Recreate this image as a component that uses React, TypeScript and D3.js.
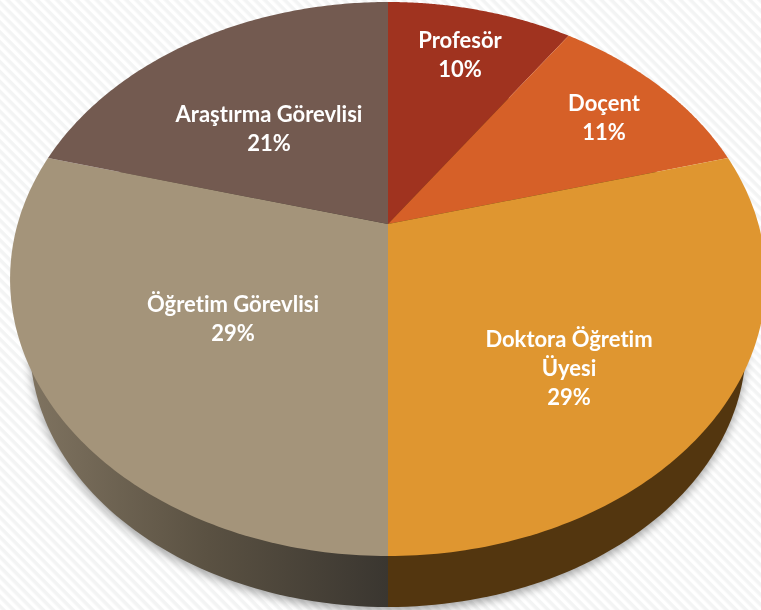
import React from "react";
import * as d3 from "d3";

const categories = ["Profesör", "Doçent", "Doktora Öğretim Üyesi", "Öğretim Görevlisi", "Araştırma Görevlisi"];
const values = [9.6, 11.2, 29.2, 29.2, 20.8];
const sliceColors = ["#a0331f", "#d66028", "#df9630", "#a4947a", "#735a50"];
const labelLines = [["Profesör"], ["Doçent"], ["Doktora Öğretim", "Üyesi"], ["Öğretim Görevlisi"], ["Araştırma Görevlisi"]];
const labelAnchors = [[460, 41], [604, 104], [569, 340], [233, 305], [269, 115]];

const W = 761, H = 610;
const apex = { x: 388, y: 224 };
const tilt = -0.1986, bx = 370.4, by = 266.1;
const project = (t: number): [number, number] => {
  const u = Math.sin(t), v = -Math.cos(t), d = 1 + tilt * v;
  return [apex.x + (bx * u) / d, apex.y + (by * v) / d];
};
const lower = { cx: 388, cy: 345, rx: 358, ry: 262 };
const lowerPt = (t: number): [number, number] => [lower.cx + lower.rx * Math.sin(t), lower.cy - lower.ry * Math.cos(t)];

const sample = (a: number, b: number, n = 120) => d3.range(n + 1).map((i) => a + ((b - a) * i) / n);
const lineGen = d3.line();

const pie = d3.pie<number>().sort(null)(values);
const wallLeft = lineGen([[lower.cx, lower.cy], ...sample(Math.PI, 2 * Math.PI).map(lowerPt)]) + "Z";
const wallRight = lineGen([[lower.cx, lower.cy], ...sample(0, Math.PI).map(lowerPt)]) + "Z";
const wallWhole = lineGen(sample(0, 2 * Math.PI, 240).map(lowerPt)) + "Z";

export default function App() {
  return (
    <svg width={W} height={H} viewBox={`0 0 ${W} ${H}`} style={{ position: "absolute", left: 0, top: 0, display: "block" }}>
      <defs>
        <pattern id="bg" width="7" height="7" patternUnits="userSpaceOnUse" patternTransform="rotate(45)">
          <rect width="7" height="7" fill="#ffffff" />
          <rect width="7" height="3.5" fill="#f3f4f4" />
        </pattern>
        <linearGradient id="wallGrad" gradientUnits="userSpaceOnUse" x1="30" x2="388" y1="0" y2="0">
          <stop offset="0" stopColor="#7f7360" />
          <stop offset="0.5" stopColor="#5a5142" />
          <stop offset="1" stopColor="#3a3630" />
        </linearGradient>
        <filter id="shadow" x="-10%" y="-10%" width="120%" height="125%">
          <feGaussianBlur stdDeviation="5" />
        </filter>
        <filter id="soft" x="-5%" y="-20%" width="110%" height="140%">
          <feGaussianBlur stdDeviation="0.3" />
        </filter>
      </defs>
      <rect width={W} height={H} fill="url(#bg)" />
      <path d={wallWhole} fill="#000" opacity={0.35} transform="translate(0,4)" filter="url(#shadow)" />
      <path d={wallLeft} fill="url(#wallGrad)" />
      <path d={wallRight} fill="#53360f" />
      {pie.map((s, i) => (
        <path
          key={categories[i]}
          d={lineGen([[apex.x, apex.y], ...sample(s.startAngle, s.endAngle).map(project)]) + "Z"}
          fill={sliceColors[i]}
        />
      ))}
      <g
        fontFamily="Lato, Carlito, sans-serif"
        fontWeight={700}
        fontSize={22}
        fill="#fff"
        textAnchor="middle"
        filter="url(#soft)"
        style={{ fontVariantLigatures: "none" }}
      >
        {pie.map((s, i) => {
          const [x, y0] = labelAnchors[i];
          const lines = [...labelLines[i], d3.format(".0f")(values[i]) + "%"];
          return (
            <text key={categories[i]}>
              {lines.map((l, j) => (
                <tspan key={j} x={x} y={y0 + 7 + j * 29}>{l}</tspan>
              ))}
            </text>
          );
        })}
      </g>
    </svg>
  );
}
